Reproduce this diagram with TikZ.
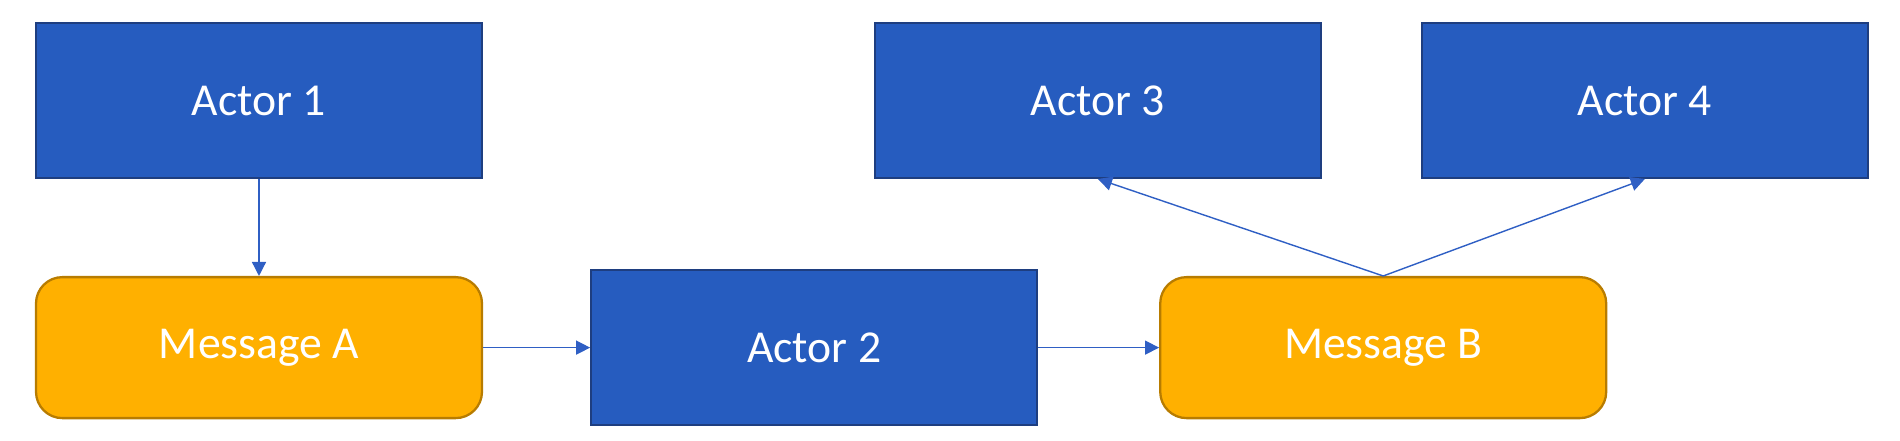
\documentclass[tikz,border=0pt]{standalone}
\usepackage{fontspec}
\setmainfont{Carlito}
\usetikzlibrary{arrows.meta,positioning}
\definecolor{actorblue}{RGB}{38,92,191}
\definecolor{actorline}{RGB}{30,62,128}
\definecolor{msgfill}{RGB}{255,176,0}
\definecolor{msgline}{RGB}{184,124,0}
\definecolor{linkblue}{RGB}{47,95,196}

\begin{document}
\begin{tikzpicture}[font=\fontsize{26}{30}\selectfont, node distance=1.94cm and 2.14cm,
  actor/.style={draw=actorline, line width=1.1pt, fill=actorblue, text=white, minimum width=8.92cm, minimum height=3.1cm, align=center},
  msg/.style={draw=msgline, line width=1.3pt, fill=msgfill, text=white, rounded corners=15pt, minimum width=8.92cm, minimum height=2.82cm, align=center},
  link/.style={-{Triangle[length=8pt, width=8pt]}, line width=0.8pt, draw=linkblue}]
  \useasboundingbox (-5.18,-6.79) rectangle (32.82,2.01);
  \node[actor] (actor1) {Actor 1};
  \node[msg, below=of actor1] (msgA) {Message A};
  \node[actor, right=of msgA] (actor2) {Actor 2};
  \node[msg, right=2.42cm of actor2] (msgB) {Message B};
  \node[actor, right=7.82cm of actor1] (actor3) {Actor 3};
  \node[actor, right=1.98cm of actor3] (actor4) {Actor 4};
  \draw[link] (actor1)--(msgA);
  \draw[link] (msgA)--(actor2);
  \draw[link] (actor2)--(msgB);
  \draw[link] (msgB.north)--(actor3.south);
  \draw[link] (msgB.north)--(actor4.south);
\end{tikzpicture}
\end{document}
